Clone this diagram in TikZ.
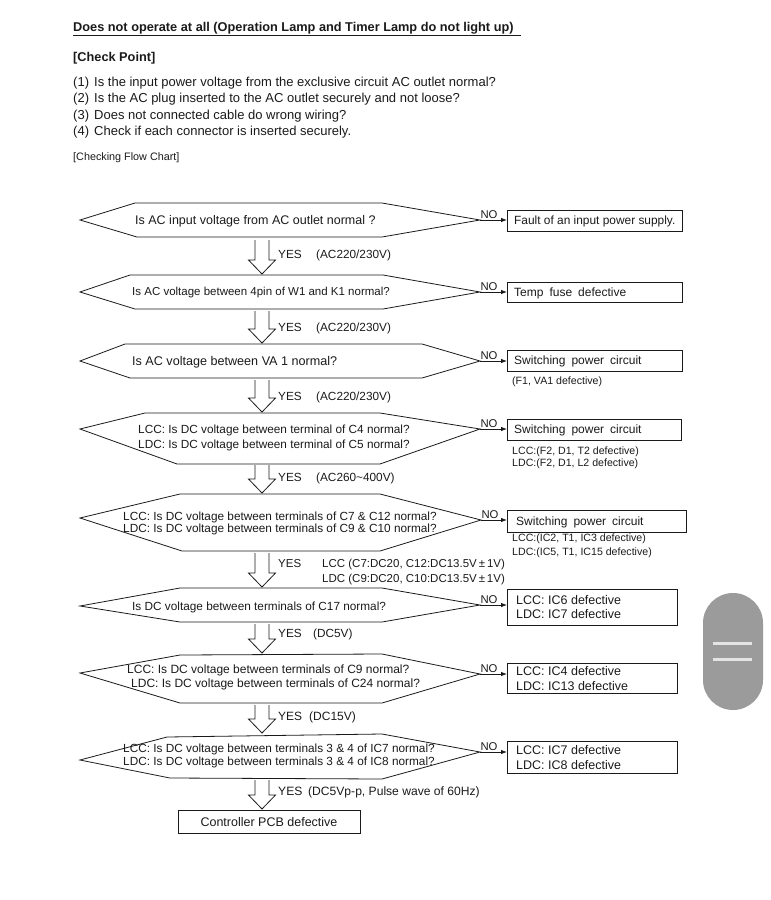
\documentclass[tikz,border=0pt]{standalone}
\usepackage{fontspec}
\setmainfont{Liberation Sans}
\usetikzlibrary{arrows.meta,calc}
\definecolor{ink}{HTML}{1A1A1A}
\definecolor{pill}{HTML}{9B9B9B}
\definecolor{pillline}{HTML}{E4E4E4}
\newcommand\fatarrow[2]{%
  \draw[fat] ($(#1)+(-7,0)$) -- ($(#2)+(-7,-14)$) -- ($(#2)+(-13.5,-14)$) -- (#2)
    -- ($(#2)+(13.5,-14)$) -- ($(#2)+(7,-14)$) -- ($(#1)+(7,0)$);}
\begin{document}
\begin{tikzpicture}[x=1pt,y=-1pt,
  every node/.style={text=ink},
  txt/.style={inner sep=0pt, anchor=west, align=left, font=\fontsize{11.5}{13}\selectfont},
  hx/.style={draw=ink, line width=0.8pt},
  resbox/.style={draw=ink, line width=0.8pt},
  fat/.style={draw=ink, line width=0.8pt},
  noarrow/.style={draw=ink, line width=0.8pt, -{Latex[length=6pt,width=4.5pt]}},
  nolab/.style={inner sep=0pt, font=\fontsize{11.3}{12}\selectfont},
  small/.style={inner sep=0pt, anchor=west, align=left, font=\fontsize{10.6}{12}\selectfont},
  yes/.style={inner sep=0pt, anchor=west, align=left, font=\fontsize{11.8}{14}\selectfont}]
\useasboundingbox (0,0) rectangle (771,900);

% header
\node[inner sep=0pt, anchor=west, font=\fontsize{12.75}{14}\bfseries] (title) at (73,29)
  {\underline{Does not operate at all (Operation Lamp and Timer Lamp do not light up)\ \ }};
\node[inner sep=0pt, anchor=west, font=\fontsize{12.75}{14}\bfseries] (cp) at (73,58) {[Check Point]};
\node[txt, font=\fontsize{13}{16}\selectfont] (cp1) at (73,83) {\makebox[21pt][l]{(1)}Is the input power voltage from the exclusive circuit AC outlet normal?};
\node[txt, font=\fontsize{13}{16}\selectfont] (cp2) at (73,99.5) {\makebox[21pt][l]{(2)}Is the AC plug inserted to the AC outlet securely and not loose?};
\node[txt, font=\fontsize{13}{16}\selectfont] (cp3) at (73,116) {\makebox[21pt][l]{(3)}Does not connected cable do wrong wiring?};
\node[txt, font=\fontsize{13}{16}\selectfont] (cp4) at (73,132) {\makebox[21pt][l]{(4)}Check if each connector is inserted securely.};
\node[txt, font=\fontsize{10.8}{12}\selectfont] (cfc) at (73,158) {[Checking Flow Chart]};

% hexagons
\draw[hx] (80,220) -- (135,203) -- (382,203) -- (480,220) coordinate (h1r) -- (382,237) -- (137,237) -- cycle;
\draw[hx] (80,292) -- (130,275) -- (383,275) -- (480,292) coordinate (h2r) -- (383,309) -- (135,309) -- cycle;
\draw[hx] (80,361) -- (125,344) -- (422,344) -- (480,361) coordinate (h3r) -- (422,378) -- (130,378) -- cycle;
\draw[hx] (80,429) -- (145,413) -- (380,413) -- (480,429) coordinate (h4r) -- (380,464) -- (177,464) -- cycle;
\draw[hx] (80,518) -- (180,494) -- (380,494) -- (481,520) coordinate (h5r) -- (380,551) -- (182,551) -- cycle;
\draw[hx] (80,606) -- (180,588) -- (382,588) -- (480,605) coordinate (h6r) -- (382,622) -- (180,622) -- cycle;
\draw[hx] (80,673) -- (180,655) -- (382,654) -- (480,674) coordinate (h7r) -- (382,703) -- (180,703) -- cycle;
\draw[hx] (80,760) -- (167,737) -- (382,734) -- (480,752) coordinate (h8r) -- (382,779) -- (170,778) -- cycle;

% hexagon texts
\node[txt, font=\fontsize{12.5}{13}\selectfont] (q1) at (135,221) {Is AC input voltage from AC outlet normal ?};
\node[txt, font=\fontsize{11.5}{13}\selectfont] (q2) at (132,293) {Is AC voltage between 4pin of W1 and K1 normal?};
\node[txt, font=\fontsize{12.6}{13}\selectfont] (q3) at (132,362) {Is AC voltage between VA 1 normal?};
\node[txt, font=\fontsize{11.8}{14.5}\selectfont] (q4) at (138,438) {LCC: Is DC voltage between terminal of C4 normal?\\LDC: Is DC voltage between terminal of C5 normal?};
\node[txt, font=\fontsize{11.8}{12}\selectfont] (q5) at (123,523) {LCC: Is DC voltage between terminals of C7 \& C12 normal?\\LDC: Is DC voltage between terminals of C9 \& C10 normal?};
\node[txt, font=\fontsize{11.8}{13}\selectfont] (q6) at (132,607) {Is DC voltage between terminals of C17 normal?};
\node[txt, font=\fontsize{12}{14}\selectfont] (q7) at (127,677) {LCC: Is DC voltage between terminals of C9 normal?\\\hspace*{4pt}LDC: Is DC voltage between terminals of C24 normal?};
\node[txt, font=\fontsize{11.8}{13}\selectfont] (q8) at (123,756) {LCC: Is DC voltage between terminals 3 \& 4 of IC7 normal?\\LDC: Is DC voltage between terminals 3 \& 4 of IC8 normal?};

% fat arrows (top of shaft / tip)
\coordinate (a1s) at (262,240); \coordinate (a1e) at (262,274);
\coordinate (a2s) at (262,311); \coordinate (a2e) at (262,343);
\coordinate (a3s) at (262,380); \coordinate (a3e) at (262,412);
\coordinate (a4s) at (262,465); \coordinate (a4e) at (262,493);
\coordinate (a5s) at (262,553); \coordinate (a5e) at (262,587);
\coordinate (a6s) at (262,624); \coordinate (a6e) at (262,653);
\coordinate (a7s) at (262,705); \coordinate (a7e) at (262,733);
\coordinate (a8s) at (262,780); \coordinate (a8e) at (262,809);
\fatarrow{a1s}{a1e}
\fatarrow{a2s}{a2e}
\fatarrow{a3s}{a3e}
\fatarrow{a4s}{a4e}
\fatarrow{a5s}{a5e}
\fatarrow{a6s}{a6e}
\fatarrow{a7s}{a7e}
\fatarrow{a8s}{a8e}

% YES labels
\node[yes] (y1) at (278,255) {\makebox[38pt][l]{YES}(AC220/230V)};
\node[yes] (y2) at (278,328) {\makebox[38pt][l]{YES}(AC220/230V)};
\node[yes] (y3) at (278,397) {\makebox[38pt][l]{YES}(AC220/230V)};
\node[yes] (y4) at (278,478) {\makebox[38pt][l]{YES}(AC260\textasciitilde400V)};
\node[yes, font=\fontsize{11.5}{14.5}\selectfont] (y5) at (278,572) {\begin{tabular}{@{}l@{\hspace{21pt}}l@{}}YES & LCC (C7:DC20, C12:DC13.5V\,±\,1V)\\ & LDC (C9:DC20, C10:DC13.5V\,±\,1V)\end{tabular}};
\node[yes] (y6) at (278,634) {\makebox[35pt][l]{YES}(DC5V)};
\node[yes, font=\fontsize{12}{14}\selectfont] (y7) at (278,717) {\makebox[31pt][l]{YES}(DC15V)};
\node[yes, font=\fontsize{12.1}{14}\selectfont] (y8) at (278,792) {\makebox[30pt][l]{YES}(DC5Vp-p, Pulse wave of 60Hz)};

% final box
\node[draw=ink, line width=0.8pt, minimum width=182pt, minimum height=23pt, inner sep=0pt,
  font=\fontsize{12.5}{13}\selectfont] (pcb) at (269,822) {Controller PCB defective};

% result boxes
\node[resbox, anchor=north west, minimum width=175pt, minimum height=21pt, inner sep=0pt] (r1) at (507,210) {};
\node[txt, font=\fontsize{11.9}{13}\selectfont] at ($(r1.west)+(7,0.5)$) {Fault of an input power supply.};
\node[resbox, anchor=north west, minimum width=175pt, minimum height=20pt, inner sep=0pt] (r2) at (507,282) {};
\node[txt, font=\fontsize{12}{13}\selectfont] at ($(r2.west)+(7,0.5)$) {Temp\hspace{6pt}fuse\hspace{6pt}defective};
\node[resbox, anchor=north west, minimum width=175pt, minimum height=21pt, inner sep=0pt] (r3) at (507,350) {};
\node[txt, font=\fontsize{12}{13}\selectfont] at ($(r3.west)+(7,0.5)$) {Switching\hspace{6pt}power\hspace{6pt}circuit};
\node[small] (s3) at (512,382) {(F1, VA1 defective)};
\node[resbox, anchor=north west, minimum width=174pt, minimum height=21pt, inner sep=0pt] (r4) at (507,419) {};
\node[txt, font=\fontsize{12}{13}\selectfont] at ($(r4.west)+(7,0.5)$) {Switching\hspace{6pt}power\hspace{6pt}circuit};
\node[small, font=\fontsize{10.6}{11.5}\selectfont] (s4) at (512,458) {LCC:(F2, D1, T2 defective)\\LDC:(F2, D1, L2 defective)};
\node[resbox, anchor=north west, minimum width=179pt, minimum height=22pt, inner sep=0pt] (r5) at (507,510) {};
\node[txt, font=\fontsize{12}{13}\selectfont] at ($(r5.west)+(9,0.5)$) {Switching\hspace{6pt}power\hspace{6pt}circuit};
\node[small, font=\fontsize{10.6}{14}\selectfont] (s5) at (512,546) {LCC:(IC2, T1, IC3 defective)\\LDC:(IC5, T1, IC15 defective)};
\node[resbox, anchor=north west, minimum width=170pt, minimum height=36pt, inner sep=0pt] (r6) at (507,589) {};
\node[txt, font=\fontsize{12.5}{14}\selectfont] at ($(r6.west)+(9,0)$) {LCC: IC6 defective\\LDC: IC7 defective};
\node[resbox, anchor=north west, minimum width=170pt, minimum height=30pt, inner sep=0pt] (r7) at (507,663) {};
\node[txt, font=\fontsize{12.5}{15}\selectfont] at ($(r7.west)+(9,0)$) {LCC: IC4 defective\\LDC: IC13 defective};
\node[resbox, anchor=north west, minimum width=170pt, minimum height=32pt, inner sep=0pt] (r8) at (507,741) {};
\node[txt, font=\fontsize{12.5}{15}\selectfont] at ($(r8.west)+(9,0)$) {LCC: IC7 defective\\LDC: IC8 defective};

% NO connectors
\foreach \i in {1,...,8}{
  \draw[noarrow] (h\i r) -- (h\i r -| r\i.west);
  \node[nolab, anchor=south] at ($(h\i r)+(9,-1.5)$) {NO};
}

% side overlay pill
\fill[pill, rounded corners=30pt] (703,593) rectangle (763,710);
\draw[pillline, line width=3pt] (713,643) -- (752,643);
\draw[pillline, line width=3pt] (713,659) -- (752,659);
\end{tikzpicture}
\end{document}
